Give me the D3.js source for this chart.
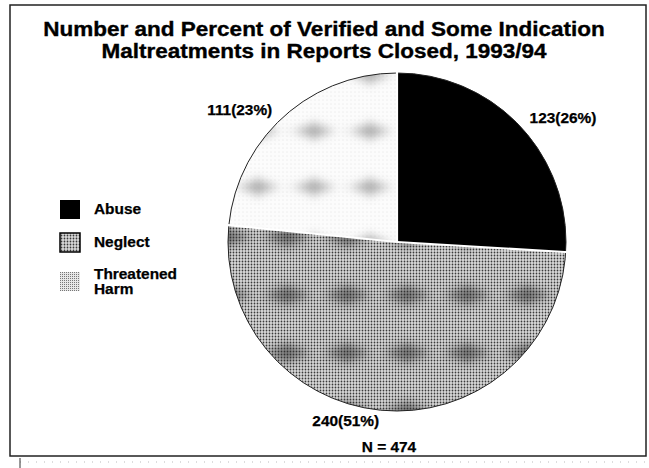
<!DOCTYPE html>
<html>
<head>
<meta charset="utf-8">
<script src="https://cdn.jsdelivr.net/npm/d3@7/dist/d3.min.js"></script>
<style>
  html, body { margin: 0; padding: 0; background: #fff; }
  svg { display: block; }
  text { font-family: "Liberation Sans", Arial, Helvetica, sans-serif; font-weight: bold; fill: #000; }
</style>
</head>
<body>
<svg id="chart" width="649" height="468"></svg>
<script>
// ---- Data ----
const titleLines = ["Number and Percent of Verified and Some Indication",
                    "Maltreatments in Reports Closed, 1993/94"];
const categories = ["Abuse", "Neglect", "Threatened Harm"];
const counts = [123, 240, 111];
const percents = [26, 51, 23];
const totalLabel = "N = 474";

// ---- Layout ----
const cx = 397, cy = 242, R = 169;
// label placement: angle (deg, clockwise from top) and distance from centre
const labelPlace = [
  {angle: 53.3, dist: 207},
  {angle: 196, dist: 186},
  {angle: 309.9, dist: 205}
];
const STRETCH = 1.1;

const svg = d3.select("#chart");
const defs = svg.append("defs");

// widen text horizontally (reference typeface is broader than Liberation Sans)
function widen(sel, k) {
  sel.each(function () {
    const w = this.getComputedTextLength();
    d3.select(this).attr("textLength", w * (k || STRETCH)).attr("lengthAdjust", "spacingAndGlyphs");
  });
  return sel;
}

defs.append("filter").attr("id", "blur").attr("x", "-50%").attr("y", "-50%")
  .attr("width", "200%").attr("height", "200%")
  .append("feGaussianBlur").attr("stdDeviation", 4);

// Neglect halftone
const pN = defs.append("pattern").attr("id", "dotsN")
  .attr("patternUnits", "userSpaceOnUse").attr("width", 3).attr("height", 3);
pN.append("rect").attr("width", 3).attr("height", 3).attr("fill", "#dadada");
pN.append("circle").attr("cx", 1.5).attr("cy", 1.5).attr("r", 0.9).attr("fill", "#3a3a3a");

// Threatened harm halftone (light)
const pT = defs.append("pattern").attr("id", "dotsT")
  .attr("patternUnits", "userSpaceOnUse").attr("width", 4).attr("height", 4);
pT.append("rect").attr("width", 4).attr("height", 4).attr("fill", "#fcfcfc");
pT.append("circle").attr("cx", 2).attr("cy", 2).attr("r", 0.4).attr("fill", "#c4c4c4");

// Legend light halftone
const pL = defs.append("pattern").attr("id", "dotsL")
  .attr("patternUnits", "userSpaceOnUse").attr("width", 2).attr("height", 2);
pL.append("rect").attr("width", 2).attr("height", 2).attr("fill", "#e6e6e6");
pL.append("rect").attr("width", 1).attr("height", 1).attr("fill", "#777");

// Blotch overlays
function blotchPattern(id, ox, oy, w, h, color, op, rx, ry) {
  const p = defs.append("pattern").attr("id", id)
    .attr("patternUnits", "userSpaceOnUse")
    .attr("x", ox).attr("y", oy).attr("width", w).attr("height", h);
  const g = p.append("g").attr("filter", "url(#blur)");
  g.append("ellipse").attr("cx", 30).attr("cy", 29).attr("rx", rx).attr("ry", ry)
    .attr("fill", color).attr("opacity", op);
  g.append("ellipse").attr("cx", 30).attr("cy", 29).attr("rx", 5).attr("ry", ry * 1.8)
    .attr("fill", color).attr("opacity", op * 0.7);
  g.append("rect").attr("x", 0).attr("y", 27).attr("width", w).attr("height", 4)
    .attr("fill", color).attr("opacity", op * 0.35);
}
blotchPattern("blotN", 220, 256, 60, 58, "#2a2a2a", 0.42, 20, 7);
blotchPattern("blotT", 223, 84, 56, 56, "#777", 0.4, 17, 6);

const fills = ["#000", "url(#dotsN)", "url(#dotsT)"];
const overlays = [null, "url(#blotN)", "url(#blotT)"];

// ---- Frame ----
svg.append("rect").attr("x", 10).attr("y", 5).attr("width", 636).attr("height", 451)
  .attr("fill", "none").attr("stroke", "#222").attr("stroke-width", 1.5);
svg.append("line").attr("x1", 20).attr("x2", 649).attr("y1", 462).attr("y2", 462)
  .attr("stroke", "#bbb").attr("stroke-width", 1).attr("stroke-dasharray", "1,7");
svg.append("line").attr("x1", 20).attr("x2", 20).attr("y1", 458).attr("y2", 468)
  .attr("stroke", "#333").attr("stroke-width", 1);

// ---- Title ----
const tl = svg.selectAll("text.title").data(titleLines).join("text").attr("class", "title")
  .attr("x", 324).attr("y", (d, i) => 36 + i * 22).attr("text-anchor", "middle")
  .attr("font-size", 20).attr("stroke", "#000").attr("stroke-width", 0.35)
  .text(d => d);
widen(tl, 1.125);

// ---- Pie ----
const data = categories.map((c, i) => ({cat: c, count: counts[i], pct: percents[i], i}));
const pie = d3.pie().sort(null).value(d => d.count).startAngle(0).endAngle(2 * Math.PI);
const arcs = pie(data);
const arc = d3.arc().innerRadius(0).outerRadius(R);

const g = svg.append("g").attr("transform", `translate(${cx},${cy})`);
g.selectAll("path.slice").data(arcs).join("path").attr("class", "slice")
  .attr("d", arc).attr("fill", d => fills[d.data.i]);
g.selectAll("path.ov").data(arcs.filter(d => overlays[d.data.i])).join("path").attr("class", "ov")
  .attr("d", arc).attr("fill", d => overlays[d.data.i]);
g.append("circle").attr("r", R).attr("fill", "none").attr("stroke", "#222").attr("stroke-width", 1);
g.selectAll("line.sep").data(arcs).join("line").attr("class", "sep")
  .attr("x1", 0).attr("y1", 0)
  .attr("x2", d => R * 1.02 * Math.sin(d.startAngle))
  .attr("y2", d => -R * 1.02 * Math.cos(d.startAngle))
  .attr("stroke", "#fff").attr("stroke-width", 2.2);

// ---- Slice labels ----
const lbl = svg.selectAll("text.lbl").data(arcs).join("text").attr("class", "lbl")
  .attr("x", d => cx + labelPlace[d.data.i].dist * Math.sin(labelPlace[d.data.i].angle * Math.PI / 180))
  .attr("y", d => cy - labelPlace[d.data.i].dist * Math.cos(labelPlace[d.data.i].angle * Math.PI / 180))
  .attr("dy", "0.35em").attr("text-anchor", "middle").attr("font-size", 14)
  .attr("stroke", "#000").attr("stroke-width", 0.25)
  .text(d => `${d.data.count}(${d.data.pct}%)`);
widen(lbl);

widen(svg.append("text").attr("x", 389).attr("y", 452).attr("text-anchor", "middle")
  .attr("font-size", 14).attr("stroke", "#000").attr("stroke-width", 0.25).text(totalLabel));

// ---- Legend ----
const legY = [200, 233, 272];
const legFill = ["#000", "url(#dotsN)", "url(#dotsL)"];
const leg = svg.append("g");
categories.forEach((c, i) => {
  leg.append("rect").attr("x", 60).attr("y", legY[i]).attr("width", 20).attr("height", 19)
    .attr("fill", legFill[i])
    .attr("stroke", i === 1 ? "#000" : "none").attr("stroke-width", 1.5);
  const words = c === "Threatened Harm" ? ["Threatened", "Harm"] : [c];
  words.forEach((w, k) => {
    widen(leg.append("text").attr("x", 94)
      .attr("y", words.length === 1 ? legY[i] + 13.5 : legY[i] + 7 + k * 15)
      .attr("font-size", 14).attr("stroke", "#000").attr("stroke-width", 0.25)
      .text(w));
  });
});
</script>
</body>
</html>
